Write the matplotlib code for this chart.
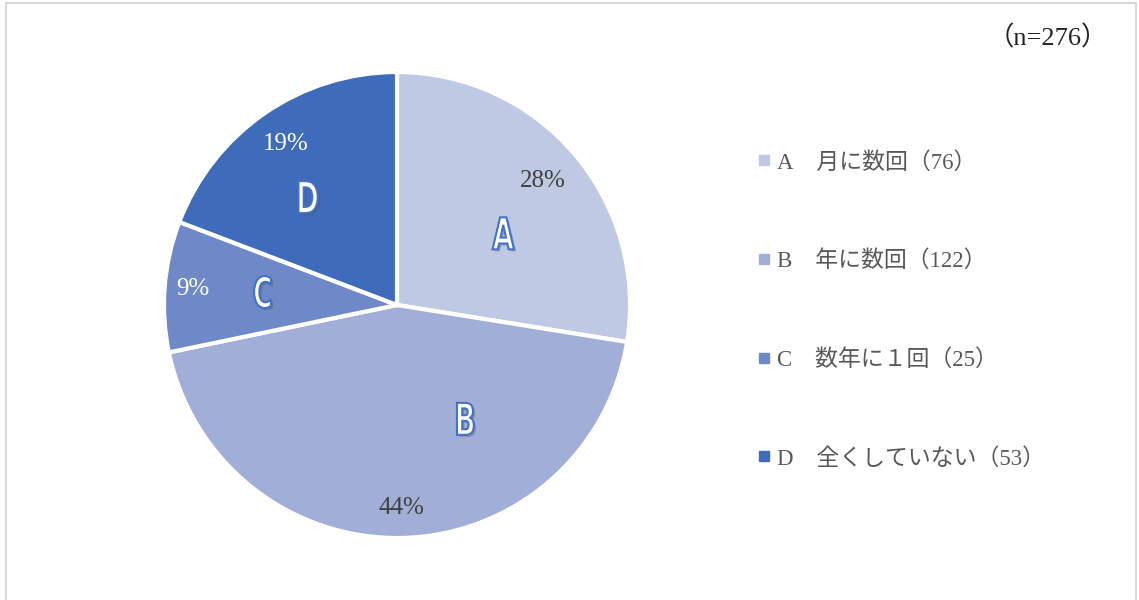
import numpy as np
import matplotlib
matplotlib.use("Agg")
from matplotlib import pyplot as plt
from matplotlib import patheffects as pe
from matplotlib.patches import Rectangle, PathPatch
from matplotlib.lines import Line2D
from matplotlib.textpath import TextPath
from matplotlib.font_manager import FontProperties
from matplotlib.transforms import Affine2D

plt.rcParams['font.family'] = ['Liberation Serif', 'Noto Sans CJK JP', 'DejaVu Sans']

letters = ['A', 'B', 'C', 'D']
labels = ['月に数回', '年に数回', '数年に１回', '全くしていない']
counts = [76, 122, 25, 53]
colors = ['#BFC9E3', '#A0AED8', '#6E88C8', '#3F6CBA']
pct_colors = ['#404040', '#404040', 'white', 'white']

W, H = 1139, 600
fig = plt.figure(figsize=(W / 100, H / 100), dpi=100)
ax = fig.add_axes([0, 0, 1, 1])

cx, cy, r = 397, H - 305, 233
wedges, _ = ax.pie(counts, colors=colors, startangle=90, counterclock=False,
                   center=(cx, cy), radius=r,
                   wedgeprops=dict(edgecolor='white', linewidth=3))
ax.set_xlim(0, W)
ax.set_ylim(0, H)
ax.set_aspect('equal')
ax.axis('off')


def big_letter(ch, x, y, height=32, squeeze=0.64):
    # narrow outlined letter, like the WordArt in the original
    tp = TextPath((0, 0), ch, size=1, prop=FontProperties(family='DejaVu Sans', weight='bold'))
    ext = tp.get_extents()
    s = height / ext.height
    tr = (Affine2D().translate(-(ext.x0 + ext.width / 2), -(ext.y0 + ext.height / 2))
          .scale(s * squeeze, s).translate(x, y))
    path = tr.transform_path(tp)
    p = PathPatch(path, facecolor='white', edgecolor='#4472C4', linewidth=1.5,
                  path_effects=[pe.SimplePatchShadow(offset=(1.5, -1.5), alpha=0.35),
                                pe.Normal()])
    ax.add_patch(p)


total = sum(counts)
pct_dist = [0.82, 0.87, 0.88, 0.84]
# letter placement (angle in degrees, fraction of radius)
letter_pos = [(34, 0.55), (-59, 0.57), (174.5, 0.58), (129.5, 0.60)]
for i, w in enumerate(wedges):
    mid = np.deg2rad((w.theta1 + w.theta2) / 2)
    x = cx + pct_dist[i] * r * np.cos(mid)
    y = cy + pct_dist[i] * r * np.sin(mid)
    ax.text(x, y, f'{round(100 * counts[i] / total)}%', ha='center', va='center',
            fontsize=18, color=pct_colors[i])
    a, f = letter_pos[i]
    big_letter(letters[i], cx + f * r * np.cos(np.deg2rad(a)),
               cy + f * r * np.sin(np.deg2rad(a)))

handles = [Line2D([], [], ls='none', marker='s', markersize=7, color=c) for c in colors]
leg_labels = [f'{l}　{t}（{n}）' for l, t, n in zip(letters, labels, counts)]
ax.legend(handles, leg_labels, loc='upper left', bbox_to_anchor=(732 / W, 1 - 131 / H),
          frameon=False, fontsize=16.5, labelspacing=3.35, handletextpad=0.1,
          handlelength=0.95, labelcolor='#595959')

fig.text(1048 / W, 1 - 38 / H, '（n=276）', ha='center', va='center', fontsize=19,
         color='#222222')

fig.patches.append(Rectangle((6 / W, -0.05), (1136 - 6) / W, 1.05 - 3 / H,
                             transform=fig.transFigure, fill=False,
                             edgecolor='#D9D9D9', linewidth=1.5))

fig.savefig('out.png', dpi=100)
